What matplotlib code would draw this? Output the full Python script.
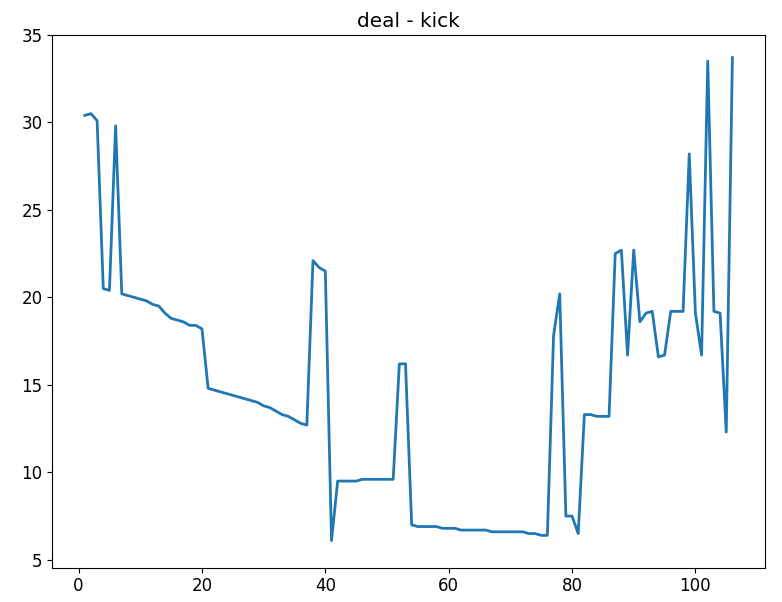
import matplotlib
matplotlib.use("Agg")
import matplotlib.pyplot as plt

days = list(range(1, 107))
values = [30.4, 30.5, 30.1, 20.5, 20.4, 29.8, 20.2, 20.1, 20.0, 19.9,
          19.8, 19.6, 19.5, 19.1, 18.8, 18.7, 18.6, 18.4, 18.4, 18.2,
          14.8, 14.7, 14.6, 14.5, 14.4, 14.3, 14.2, 14.1, 14.0, 13.8,
          13.7, 13.5, 13.3, 13.2, 13.0, 12.8, 12.7, 22.1, 21.7, 21.5,
          6.1, 9.5, 9.5, 9.5, 9.5, 9.6, 9.6, 9.6, 9.6, 9.6,
          9.6, 16.2, 16.2, 7.0, 6.9, 6.9, 6.9, 6.9, 6.8, 6.8,
          6.8, 6.7, 6.7, 6.7, 6.7, 6.7, 6.6, 6.6, 6.6, 6.6,
          6.6, 6.6, 6.5, 6.5, 6.4, 6.4, 17.8, 20.2, 7.5, 7.5,
          6.5, 13.3, 13.3, 13.2, 13.2, 13.2, 22.5, 22.7, 16.7, 22.7,
          18.6, 19.1, 19.2, 16.6, 16.7, 19.2, 19.2, 19.2, 28.2, 19.1,
          16.7, 33.5, 19.2, 19.1, 12.3, 33.7]

plt.rcParams['font.size'] = 12
fig, ax = plt.subplots(figsize=(7.82, 6.02), dpi=100)
ax.plot(days, values, linewidth=2)
ax.set_title("deal - kick")
ax.set_ylim(4.55, 35)
plt.subplots_adjust(left=0.067, right=0.978, top=0.942, bottom=0.057)
plt.savefig("out.png")
